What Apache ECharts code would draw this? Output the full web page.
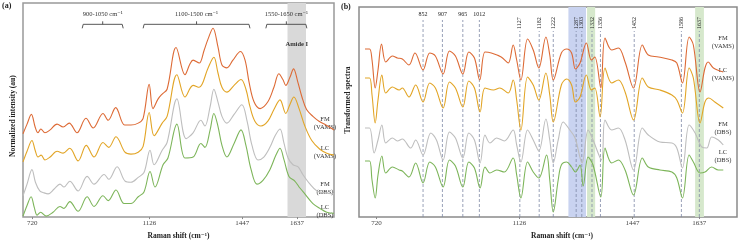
<!DOCTYPE html>
<html>
<head>
<meta charset="utf-8">
<script src="https://cdn.jsdelivr.net/npm/echarts@6/dist/echarts.min.js"></script>
<style>
  html, body { margin: 0; padding: 0; background: #fff; }
  #main { width: 740px; height: 245px; }
</style>
</head>
<body>
<div id="main"></div>
<script>
// panel (a): raw spectra, [Raman shift, offset intensity]
const fmVamsA = [[688,86],[702,96],[717,106],[730,93],[740,87],[750,91],[764,87],[782,90],[806,96],[827,93],[848,97],[875,87],[906,102],[931,92],[965,107],[983,100],[1009,113],[1040,95],[1062,95],[1087,97],[1104,102],[1125,137],[1138,112],[1156,122],[1170,127],[1187,132],[1218,175],[1249,147],[1266,158],[1277,162],[1298,159],[1315,172],[1329,184],[1346,195],[1363,176],[1377,157],[1394,154],[1415,162],[1441,171],[1457,162],[1471,139],[1488,119],[1509,112],[1536,119],[1557,134],[1574,148],[1588,142],[1598,136],[1612,144],[1625,153],[1640,139],[1654,124],[1670,111],[1692,104],[1713,99],[1737,95],[1765,90]];
const lcVamsA = [[688,57],[702,68],[719,79],[730,69],[740,62],[751,64],[764,59],[782,62],[806,68],[827,66],[850,71],[879,58],[907,74],[934,62],[965,77],[985,72],[1010,83],[1041,67],[1062,65],[1087,67],[1104,73],[1125,108],[1142,84],[1170,97],[1187,104],[1221,147],[1249,124],[1277,136],[1298,134],[1329,154],[1349,165],[1363,149],[1377,134],[1394,129],[1419,136],[1443,142],[1460,132],[1474,114],[1491,99],[1512,94],[1536,99],[1557,111],[1578,121],[1598,107],[1612,116],[1626,124],[1644,112],[1664,94],[1688,79],[1716,70],[1740,66],[1765,64]];
const fmDbsA = [[688,22],[702,34],[719,49],[731,36],[746,27],[761,25],[775,24],[796,29],[816,34],[830,31],[850,37],[879,27],[910,42],[934,34],[969,44],[985,39],[1014,52],[1042,37],[1062,36],[1087,41],[1107,46],[1128,69],[1142,54],[1170,69],[1187,77],[1221,122],[1253,81],[1277,87],[1304,100],[1318,94],[1336,114],[1349,132],[1363,119],[1377,104],[1394,97],[1419,106],[1446,116],[1464,99],[1481,74],[1502,59],[1522,62],[1543,72],[1561,84],[1578,91],[1592,76],[1606,61],[1623,54],[1640,52],[1657,44],[1682,34],[1706,27],[1734,25],[1765,24]];
const lcDbsA = [[688,1],[702,12],[716,21],[727,10],[737,2],[749,5],[768,1],[792,5],[816,11],[830,9],[850,16],[879,6],[910,21],[934,11],[965,22],[983,17],[1010,28],[1038,14],[1062,14],[1087,21],[1107,26],[1128,47],[1145,31],[1173,54],[1190,61],[1221,96],[1249,61],[1277,62],[1304,76],[1318,72],[1336,90],[1349,107],[1363,94],[1377,74],[1394,62],[1419,76],[1443,90],[1460,74],[1478,49],[1498,34],[1519,38],[1543,49],[1564,64],[1578,71],[1592,59],[1609,42],[1630,37],[1647,30],[1664,24],[1692,14],[1716,9],[1740,5],[1765,4]];

// panel (b): transformed spectra
const fmVamsB = [[687,168],[700,168],[707,157],[716,129],[724,147],[734,173],[746,155],[765,161],[779,159],[793,158],[812,152],[829,164],[852,147],[871,164],[887,161],[909,143],[927,166],[944,161],[965,143],[982,165],[998,159],[1013,137],[1028,165],[1046,164],[1074,160],[1094,154],[1108,172],[1118,157],[1130,137],[1149,178],[1165,167],[1181,149],[1201,180],[1212,162],[1222,137],[1245,164],[1260,168],[1274,164],[1285,148],[1298,154],[1316,174],[1330,157],[1340,160],[1357,129],[1369,179],[1388,167],[1407,169],[1426,155],[1450,129],[1475,172],[1492,162],[1521,160],[1559,157],[1573,154],[1589,134],[1608,180],[1620,172],[1639,125],[1653,149],[1662,155],[1677,149],[1705,145]];
const lcVamsB = [[687,139],[700,139],[707,122],[716,94],[724,117],[735,142],[746,124],[765,130],[784,127],[793,129],[812,120],[831,132],[852,115],[871,134],[887,129],[909,109],[927,135],[944,129],[965,110],[982,136],[998,129],[1014,105],[1028,129],[1052,127],[1070,129],[1094,124],[1108,137],[1118,117],[1130,87],[1149,140],[1165,132],[1181,117],[1201,144],[1212,122],[1222,95],[1245,132],[1260,138],[1274,132],[1285,115],[1298,120],[1316,142],[1330,127],[1340,129],[1355,100],[1369,149],[1388,134],[1407,137],[1426,125],[1450,97],[1475,139],[1492,130],[1525,127],[1559,122],[1573,117],[1589,104],[1608,149],[1620,139],[1639,94],[1653,115],[1664,119],[1681,115],[1705,109]];
const fmDbsB = [[687,89],[700,89],[713,64],[724,77],[735,92],[746,74],[765,79],[779,76],[793,78],[817,69],[831,77],[852,62],[874,84],[890,77],[909,57],[927,85],[944,79],[965,59],[982,84],[998,77],[1014,54],[1028,82],[1042,74],[1061,79],[1083,76],[1108,87],[1118,72],[1130,55],[1149,87],[1165,77],[1181,66],[1201,98],[1212,77],[1222,54],[1236,77],[1250,95],[1269,87],[1284,79],[1304,54],[1321,87],[1335,77],[1359,57],[1369,97],[1388,87],[1407,89],[1426,77],[1450,47],[1475,89],[1492,82],[1525,75],[1559,74],[1573,69],[1589,49],[1608,92],[1625,84],[1644,70],[1658,69],[1672,80],[1691,77],[1705,72]];
const lcDbsB = [[687,56],[700,56],[707,37],[716,19],[724,42],[735,61],[746,44],[765,50],[784,47],[793,46],[812,40],[831,54],[852,34],[871,55],[887,50],[909,30],[927,57],[944,51],[965,30],[982,55],[998,49],[1014,29],[1028,50],[1042,44],[1061,47],[1083,45],[1108,59],[1118,42],[1130,19],[1149,55],[1165,45],[1181,39],[1203,62],[1212,37],[1222,5],[1236,37],[1245,52],[1260,55],[1274,50],[1285,45],[1298,52],[1307,31],[1321,60],[1335,52],[1357,20],[1369,69],[1388,54],[1407,57],[1426,47],[1450,22],[1475,59],[1492,50],[1525,47],[1559,45],[1573,39],[1589,19],[1608,62],[1620,55],[1639,44],[1653,45],[1672,50],[1691,47],[1705,47]];

const tickValues = [720, 1126, 1447, 1637];
const peakLines = [852, 907, 965, 1012, 1127, 1182, 1222, 1287, 1303, 1332, 1356, 1452, 1586, 1637];
const bracketRanges = [[893, 1035], [1104, 1474], [1529, 1671]];
const bracketLabels = ['900-1050 cm⁻¹', '1100-1500 cm⁻¹', '1550-1650 cm⁻¹'];
const amideBand = [1604, 1668];
const blueBands = [[1265, 1315]];
const greenBands = [[1318, 1341], [1625, 1650]];
const names = ['FM\n(VAMS)', 'LC\n(VAMS)', 'FM\n(DBS)', 'LC\n(DBS)'];
const colors = ['#DD6A35', '#E2A526', '#BEBEBE', '#7DB55A'];

const serif = "'Liberation Serif', 'DejaVu Serif', serif";

let myChart = echarts.init(document.getElementById('main'));

function lineSeries(data, i, axis, extra) {
    return Object.assign({
        type: 'line',
        xAxisIndex: axis,
        yAxisIndex: axis,
        data: data,
        smooth: 0.35,
        showSymbol: false,
        silent: true,
        lineStyle: { width: 1.1, color: colors[i] },
        z: 3
    }, extra || {});
}

function xAxisOf(grid, min, max, nameGap, pad) {
    return {
        type: 'value', gridIndex: grid, min: min, max: max,
        axisLine: { show: false },
        splitLine: { show: false },
        axisTick: { show: true, customValues: tickValues, length: 2, lineStyle: { color: '#888' } },
        axisLabel: { customValues: tickValues, formatter: v => String(v), fontSize: 7, color: '#444', margin: 3, fontFamily: serif },
        name: 'Raman shift (cm⁻¹)', nameLocation: 'middle', nameGap: nameGap,
        nameTextStyle: { fontSize: 7.5, fontWeight: 'bold', color: '#222', fontFamily: serif, padding: pad }
    };
}

function yAxisOf(grid, max, name, nameGap, pad) {
    return {
        type: 'value', gridIndex: grid, min: 0, max: max,
        axisLine: { show: false }, axisTick: { show: false },
        axisLabel: { show: false }, splitLine: { show: false },
        name: name, nameLocation: 'middle', nameGap: nameGap,
        nameTextStyle: { fontSize: 7.5, fontWeight: 'bold', color: '#222', fontFamily: serif, padding: pad }
    };
}

const rightLabelsA = [[325, 123], [325, 152], [325, 188], [325, 211]];
const rightLabelsB = [[723, 42], [723, 74], [723, 128], [723, 156]];

myChart.setOption({
    animation: false,
    backgroundColor: '#fff',
    grid: [
        { left: 23, top: 3, width: 311, height: 221, show: true, borderColor: '#999', borderWidth: 1.5 },
        { left: 359, top: 7, width: 378, height: 210, show: true, borderColor: '#8a8a8a', borderWidth: 1.5 }
    ],
    xAxis: [xAxisOf(0, 688, 1765, 10, [0, 0, 0, 0]), xAxisOf(1, 670, 1744, 11, [0, 0, 0, 28])],
    yAxis: [
        yAxisOf(0, 221, 'Normalized intensity (au)', 6, [0, 12, 0, 0]),
        yAxisOf(1, 210, 'Transformed spectra', 7, [0, 0, 0, 24])
    ],
    graphic: [
        { type: 'text', left: 2, top: 2, style: { text: '(a)', font: 'bold 8px ' + serif, fill: '#222' } },
        { type: 'text', left: 341, top: 3, style: { text: '(b)', font: 'bold 8px ' + serif, fill: '#222' } }
    ].concat(rightLabelsA.map((p, i) => ({
        type: 'text', x: p[0], y: p[1],
        style: { text: names[i], font: '6.5px ' + serif, fill: '#333', align: 'center', verticalAlign: 'middle', lineHeight: 8 }
    }))).concat(rightLabelsB.map((p, i) => ({
        type: 'text', x: p[0], y: p[1],
        style: { text: names[i], font: '6.5px ' + serif, fill: '#333', align: 'center', verticalAlign: 'middle', lineHeight: 8 }
    }))),
    series: [
        lineSeries(fmVamsA, 0, 0, {
            markArea: {
                silent: true,
                itemStyle: { color: '#d9d9d9' },
                label: { show: true, position: 'insideTop', distance: 38, fontSize: 6.5, fontWeight: 'bold', color: '#333', fontFamily: serif },
                data: [[{ xAxis: amideBand[0], name: 'Amide I' }, { xAxis: amideBand[1] }]]
            }
        }),
        lineSeries(lcVamsA, 1, 0),
        lineSeries(fmDbsA, 2, 0),
        lineSeries(lcDbsA, 3, 0),
        lineSeries(fmVamsB, 0, 1, {
            markArea: {
                silent: true,
                label: { show: false },
                data: blueBands.map(b => [{ xAxis: b[0], itemStyle: { color: '#c9d3f0' } }, { xAxis: b[1] }])
                    .concat(greenBands.map(b => [{ xAxis: b[0], itemStyle: { color: '#d6e8cc' } }, { xAxis: b[1] }]))
            }
        }),
        lineSeries(lcVamsB, 1, 1),
        lineSeries(fmDbsB, 2, 1),
        lineSeries(lcDbsB, 3, 1),
        {
            // brackets over panel (a)
            type: 'custom', xAxisIndex: 0, yAxisIndex: 0, silent: true, z: 4,
            data: bracketRanges.map((r, i) => [r[0], r[1], i]),
            renderItem: function (params, api) {
                const p1 = api.coord([api.value(0), 199]);
                const p2 = api.coord([api.value(1), 199]);
                const mid = (p1[0] + p2[0]) / 2;
                const y = p1[1];
                return {
                    type: 'group',
                    children: [
                        { type: 'polyline', shape: { points: [[p1[0], y + 4], [p1[0] + 1, y], [p2[0] - 1, y], [p2[0], y + 4]] },
                          style: { stroke: '#444', lineWidth: 0.9, fill: null } },
                        { type: 'line', shape: { x1: mid, y1: y, x2: mid, y2: y - 3 }, style: { stroke: '#444', lineWidth: 0.9 } },
                        { type: 'text', x: mid, y: y - 10,
                          style: { text: bracketLabels[api.value(2)], font: '6.5px ' + serif, fill: '#333', align: 'center', verticalAlign: 'middle' } }
                    ]
                };
            }
        },
        {
            // dashed peak markers over panel (b)
            type: 'custom', xAxisIndex: 1, yAxisIndex: 1, silent: true, z: 2,
            data: peakLines.map(p => [p]),
            renderItem: function (params, api) {
                const wn = api.value(0);
                const bot = api.coord([wn, 0]);
                const top = api.coord([wn, 210]);
                const rotated = wn > 1100;
                const lineTop = rotated ? top[1] + 24 : top[1] + 13;
                return {
                    type: 'group',
                    children: [
                        { type: 'line', shape: { x1: bot[0], y1: bot[1], x2: bot[0], y2: lineTop },
                          style: { stroke: '#7f89a6', lineWidth: 0.8, lineDash: [3, 2] } },
                        rotated
                            ? { type: 'text', x: bot[0], y: lineTop - 2, rotation: Math.PI / 2,
                                style: { text: String(wn), font: '6px ' + serif, fill: '#222', align: 'left', verticalAlign: 'middle' } }
                            : { type: 'text', x: bot[0], y: top[1] + 7,
                                style: { text: String(wn), font: '6px ' + serif, fill: '#222', align: 'center', verticalAlign: 'middle' } }
                    ]
                };
            }
        }
    ]
});
</script>
</body>
</html>
